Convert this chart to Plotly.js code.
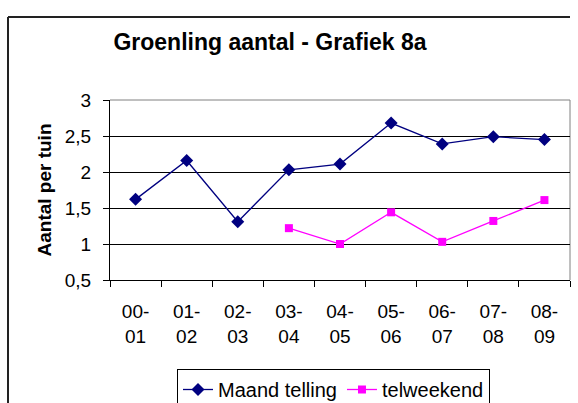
<!DOCTYPE html>
<html><head><meta charset="utf-8">
<script src="https://cdn.plot.ly/plotly-3.0.1.min.js"></script>
<style>html,body{margin:0;padding:0;background:#fff;overflow:hidden}#chart{width:578px;height:403px}</style>
</head><body><div id="chart"></div>
<script>
const categories = ["00-<br>01","01-<br>02","02-<br>03","03-<br>04","04-<br>05","05-<br>06","06-<br>07","07-<br>08","08-<br>09"];
const maandTelling = [1.62, 2.16, 1.31, 2.03, 2.11, 2.68, 2.39, 2.49, 2.45];
const telweekend = [null, null, null, 1.22, 1.0, 1.44, 1.03, 1.32, 1.61];
const yTickVals = [0.5, 1, 1.5, 2, 2.5, 3];
const yTickText = ["0,5", "1", "1,5", "2", "2,5", "3"];

const font = "Liberation Sans, Arial, sans-serif";
const traces = [
  {x: categories, y: maandTelling, name: "Maand telling", type: "scatter", mode: "lines+markers",
   line: {color: "#000080", width: 1.3}, marker: {symbol: "diamond", size: 10, color: "#000080"}},
  {x: categories, y: telweekend, name: "telweekend", type: "scatter", mode: "lines+markers",
   line: {color: "#FF00FF", width: 1.3}, marker: {symbol: "square", size: 8, color: "#FF00FF"}}
];
const fx0 = (8-110)/460, fy1 = (280-17)/180;
const layout = {
  width: 578, height: 403,
  margin: {l: 110, r: 8, t: 100, b: 123, autoexpand: false},
  paper_bgcolor: "#fff", plot_bgcolor: "#fff",
  font: {family: font, size: 18, color: "#000"},
  title: {text: "<b>Groenling aantal - Grafiek 8a</b>", font: {family: font, size: 23, color: "#000"},
          x: 270/578, xanchor: "center", y: 1 - 42/403, yanchor: "middle"},
  xaxis: {type: "category", showgrid: false, showline: true, linecolor: "#000", linewidth: 1,
          ticks: "outside", ticklen: 6, tickcolor: "#000", tickson: "boundaries",
          tickfont: {family: font, size: 19}, ticklabelstandoff: 14, range: [-0.5, 8.5], fixedrange: true},
  yaxis: {range: [0.5, 3], tickvals: yTickVals, ticktext: yTickText, showgrid: true, gridcolor: "#000", gridwidth: 1,
          showline: true, linecolor: "#000", linewidth: 1, ticks: "outside", ticklen: 6, tickcolor: "#000",
          zeroline: false, tickfont: {family: font, size: 19}, ticklabelstandoff: 8,
          title: {text: "<b>Aantal per tuin</b>", font: {family: font, size: 19}, standoff: 8}},
  showlegend: true,
  legend: {orientation: "h", x: (177-110)/460, xanchor: "left", y: (280-369)/180, yanchor: "top",
           bordercolor: "#000", borderwidth: 1, font: {family: font, size: 20}, bgcolor: "#fff",
           itemwidth: 30, tracegroupgap: 0},
  shapes: [
    {type: "line", xref: "paper", yref: "paper", x0: 0, x1: 1, y0: 1, y1: 1, line: {color: "#808080", width: 1}, layer: "below"},
    {type: "line", xref: "paper", yref: "paper", x0: 1, x1: 1, y0: 0, y1: 1, line: {color: "#808080", width: 1}, layer: "below"},
    {type: "line", xref: "paper", yref: "paper", x0: fx0, x1: fx0, y0: -0.7, y1: fy1, line: {color: "#222", width: 2}},
    {type: "line", xref: "paper", yref: "paper", x0: fx0, x1: 1, y0: fy1, y1: fy1, line: {color: "#222", width: 2}}
  ]
};
Plotly.newPlot("chart", traces, layout, {staticPlot: true});
</script></body></html>
